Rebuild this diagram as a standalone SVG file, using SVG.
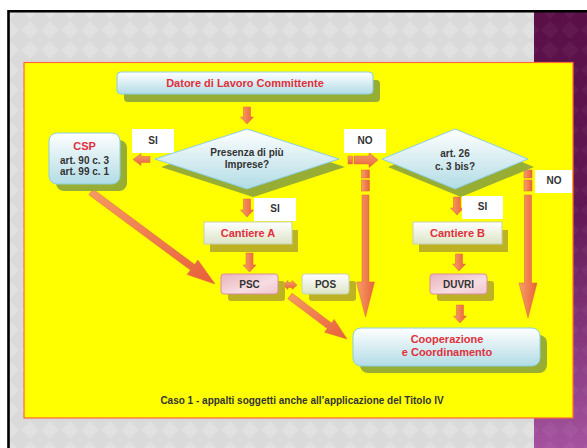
<svg xmlns="http://www.w3.org/2000/svg" width="587" height="448" viewBox="0 0 587 448">
<defs>
<pattern id="dia" width="20" height="20" patternUnits="userSpaceOnUse">
<rect width="20" height="20" fill="#dadada"/>
<polygon points="10,1 19,10 10,19 1,10" fill="#e1e1e1"/>
</pattern>
<pattern id="diaP" width="20" height="20" patternUnits="userSpaceOnUse">
<polygon points="10,1 19,10 10,19 1,10" fill="#ffffff" fill-opacity="0.04"/>
</pattern>
<linearGradient id="purp" x1="0" y1="0" x2="0" y2="1">
<stop offset="0" stop-color="#5a0f47"/>
<stop offset="0.45" stop-color="#621754"/>
<stop offset="1" stop-color="#a4529e"/>
</linearGradient>
<linearGradient id="blue" x1="0" y1="0" x2="0" y2="1">
<stop offset="0" stop-color="#ffffff"/>
<stop offset="1" stop-color="#b2dce5"/>
</linearGradient>
<linearGradient id="green" x1="0" y1="0" x2="0" y2="1">
<stop offset="0" stop-color="#ffffff"/>
<stop offset="1" stop-color="#dce4c6"/>
</linearGradient>
<linearGradient id="pink" x1="0" y1="0" x2="1" y2="1">
<stop offset="0" stop-color="#eab2bc"/>
<stop offset="0.6" stop-color="#f6dde2"/>
<stop offset="1" stop-color="#f0c6ce"/>
</linearGradient>
<linearGradient id="arrV" x1="0" y1="0" x2="1" y2="0">
<stop offset="0" stop-color="#f7a06a"/>
<stop offset="1" stop-color="#e8623a"/>
</linearGradient>
<linearGradient id="arrH" x1="0" y1="0" x2="0" y2="1">
<stop offset="0" stop-color="#f7a06a"/>
<stop offset="1" stop-color="#e8623a"/>
</linearGradient>
<linearGradient id="arrD" x1="0" y1="0" x2="1" y2="1">
<stop offset="0" stop-color="#f59a64"/>
<stop offset="1" stop-color="#e8603a"/>
</linearGradient>
</defs>
<style>
.blue{fill:url(#blue);stroke:#8ccfdf;stroke-width:1}
.green{fill:url(#green);stroke:#c6d2ae;stroke-width:1}
.pink{fill:url(#pink);stroke:#d88e9c;stroke-width:1}
.shG{fill:#98ad33}
.shY{fill:#bdb224}
.lbl{fill:#ffffff}
.t{font-family:"Liberation Sans",Arial,sans-serif;font-weight:bold;text-anchor:middle}
.red{fill:#e0303c;font-size:11px}
.dk{fill:#333333;font-size:10px}
.av{fill:url(#arrV);stroke:#e0643a;stroke-width:0.5}
.ah{fill:url(#arrH);stroke:#e0643a;stroke-width:0.5}
.ad{fill:url(#arrD);stroke:#e0643a;stroke-width:0.5}
</style>

<!-- background -->
<rect x="0" y="0" width="587" height="448" fill="#ffffff"/>
<rect x="8" y="11" width="579" height="437" fill="url(#dia)"/>
<rect x="534" y="11" width="53" height="437" fill="url(#purp)"/>
<rect x="534" y="11" width="53" height="437" fill="url(#diaP)"/>
<path d="M8.5,448 V11.2 H587" fill="none" stroke="#000000" stroke-width="2.6"/>
<rect x="24" y="62.5" width="549" height="355.5" fill="#ffff00" stroke="#ff6a3a" stroke-width="1.2"/>

<!-- connectors -->
<g id="connectors">
<polygon class="av" points="243.5,107 250.5,107 250.5,117 253.5,117 247,124 240.5,117 243.5,117"/>
<polygon class="ah" points="150,156.5 141,156.5 141,153.5 133,159.5 141,165.5 141,162.5 150,162.5"/>
<polygon class="ad" points="88.9,194.8 190.4,270.1 187.1,274.5 215,284 197.9,260.1 194.6,264.5 93.1,189.2"/>
<polygon class="av" points="243.5,199 250.5,199 250.5,210 253.5,210 247,217 240.5,210 243.5,210"/>
<polygon class="av" points="246,253 253,253 253,265 256,265 249.5,272 243,265 246,265"/>
<polygon class="ah" points="283,285 288,280.5 288,282.5 292,282.5 292,280.5 297,285 292,289.5 292,287.5 288,287.5 288,289.5"/>
<polygon class="ad" points="287.9,298.8 327.3,328.6 324.6,332.2 347,339 334.2,319.4 331.5,323 292.1,293.2"/>
<rect class="ah" x="348" y="156" width="4.5" height="8"/>
<polygon class="ah" points="354,156 369,156 369,152.5 378,160 369,167.5 369,164 354,164"/>
<rect class="av" x="361.5" y="170" width="8" height="8"/>
<rect class="av" x="361.5" y="180" width="8" height="11"/>
<polygon class="av" points="362,195 369,195 369,282 374.5,282 365.5,317 356.5,282 362,282"/>
<rect class="av" x="524" y="170" width="8" height="8"/>
<rect class="av" x="524" y="180" width="8" height="11"/>
<polygon class="av" points="524.5,195 531.5,195 531.5,283 537,283 528,318 519,283 524.5,283"/>
<polygon class="av" points="453.5,197 460.5,197 460.5,208 463.5,208 457,215 450.5,208 453.5,208"/>
<polygon class="av" points="455.5,254 462.5,254 462.5,264 465.5,264 459,271 452.5,264 455.5,264"/>
<polygon class="av" points="456.5,305 463.5,305 463.5,316 466.5,316 460,323 453.5,316 456.5,316"/>
</g>

<!-- nodes -->
<g id="datore">
<rect class="shG" x="124" y="80" width="256" height="22" rx="4"/>
<rect class="blue" x="117" y="72" width="256" height="22" rx="4"/>
<text class="t red" x="245" y="87">Datore di Lavoro Committente</text>
</g>
<g id="csp">
<rect class="shG" x="56" y="140" width="71" height="51" rx="8"/>
<rect class="blue" x="49" y="133" width="71" height="51" rx="8"/>
<text class="t red" x="84.5" y="150">CSP</text>
<text class="t dk" x="84.5" y="164">art. 90 c. 3</text>
<text class="t dk" x="84.5" y="175">art. 99 c. 1</text>
</g>
<g id="si1">
<rect class="lbl" x="132" y="129" width="42" height="24"/>
<text class="t dk" x="153" y="144">SI</text>
</g>
<g id="presenza">
<polygon class="shG" points="253,137 345,167 253,197 161,167"/>
<polygon class="blue" points="247,129 339,159 247,189 155,159"/>
<text class="t dk" x="247" y="156">Presenza di più</text>
<text class="t dk" x="247" y="168">Imprese?</text>
</g>
<g id="no1">
<rect class="lbl" x="344" y="129" width="42" height="24"/>
<text class="t dk" x="365" y="144">NO</text>
</g>
<g id="si2">
<rect class="lbl" x="254" y="198" width="42" height="23"/>
<text class="t dk" x="275" y="212">SI</text>
</g>
<g id="cantiereA">
<rect class="shY" x="210" y="230" width="88" height="22"/>
<rect class="green" x="204" y="222" width="88" height="22"/>
<text class="t red" x="248" y="237">Cantiere A</text>
</g>
<g id="psc">
<rect class="shY" x="228" y="281" width="57" height="20" rx="3"/>
<rect class="pink" x="221" y="274" width="57" height="20" rx="3"/>
<text class="t dk" x="249.5" y="288">PSC</text>
</g>
<g id="pos">
<rect class="shY" x="309" y="281" width="47" height="20" rx="3"/>
<rect class="green" x="302" y="274" width="47" height="20" rx="3"/>
<text class="t dk" x="325.5" y="288">POS</text>
</g>
<g id="art26">
<polygon class="shG" points="461,137 534,167 461,197 388,167"/>
<polygon class="blue" points="455,129 528,159 455,189 382,159"/>
<text class="t dk" x="455" y="157">art. 26</text>
<text class="t dk" x="455" y="170">c. 3 bis?</text>
</g>
<g id="no2">
<rect class="lbl" x="535" y="170" width="37" height="23"/>
<text class="t dk" x="554" y="184">NO</text>
</g>
<g id="si3">
<rect class="lbl" x="462" y="196" width="41" height="23"/>
<text class="t dk" x="482.5" y="210">SI</text>
</g>
<g id="cantiereB">
<rect class="shY" x="419" y="230" width="89" height="22"/>
<rect class="green" x="413" y="222" width="89" height="22"/>
<text class="t red" x="457.5" y="237">Cantiere B</text>
</g>
<g id="duvri">
<rect class="shY" x="437" y="281" width="57" height="20" rx="3"/>
<rect class="pink" x="430" y="274" width="57" height="20" rx="3"/>
<text class="t dk" x="458.5" y="288">DUVRI</text>
</g>
<g id="cooperazione">
<rect class="shG" x="360" y="335" width="187" height="38" rx="8"/>
<rect class="blue" x="353" y="328" width="187" height="38" rx="8"/>
<text class="t red" x="447" y="343">Cooperazione</text>
<text class="t red" x="447" y="356">e Coordinamento</text>
</g>
<g id="caption">
<text class="t dk" x="302" y="404">Caso 1 - appalti soggetti anche all’applicazione del Titolo IV</text>
</g>
</svg>
